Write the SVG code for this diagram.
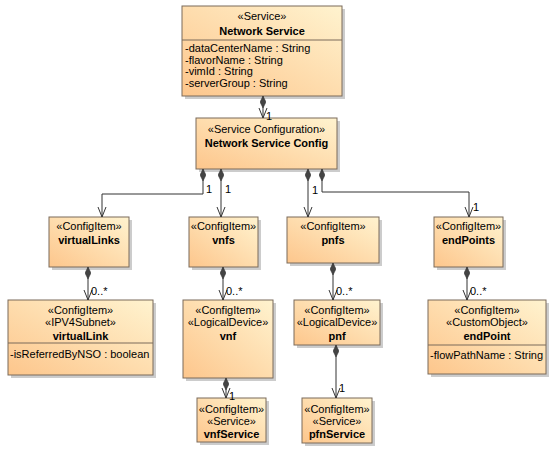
<svg xmlns="http://www.w3.org/2000/svg" width="559" height="470" viewBox="0 0 559 470">
<defs>
<linearGradient id="g" x1="0" y1="1" x2="1" y2="0">
<stop offset="0" stop-color="#FDC68C"/>
<stop offset="1" stop-color="#FFF3CF"/>
</linearGradient>
<marker id="arr" viewBox="0 0 10 10" refX="10" refY="5" markerWidth="10" markerHeight="10" markerUnits="userSpaceOnUse" orient="auto">
<path d="M0,1 L10,5 L0,9" fill="none" stroke="#333" stroke-width="1"/>
</marker>
<marker id="dia" viewBox="0 0 12 6" refX="0" refY="3" markerWidth="12" markerHeight="6" markerUnits="userSpaceOnUse" orient="auto">
<path d="M0,3 L6,0 L12,3 L6,6 Z" fill="#444" stroke="#333" stroke-width="0.5"/>
</marker>
</defs>
<style>
.box{fill:url(#g);stroke:#7a6a5a;stroke-width:1}
.sh{fill:#aaa;opacity:0.6}
.sep{stroke:#7a6a5a;stroke-width:1}
text{font-family:"Liberation Sans",Arial,sans-serif;font-size:11px;fill:#000}
.c{text-anchor:middle}
.b{font-weight:bold}
.ln{fill:none;stroke:#333;stroke-width:1;marker-start:url(#dia);marker-end:url(#arr)}
</style>
<rect width="559" height="470" fill="#fff"/>

<g id="networkService">
<rect class="sh" x="185" y="9" width="160" height="90"/>
<rect class="box" x="182" y="6" width="160" height="90"/>
<line class="sep" x1="182" y1="40" x2="342" y2="40"/>
<text class="c" x="262" y="20">«Service»</text>
<text class="c b" x="262" y="35">Network Service</text>
<text x="185" y="52">-dataCenterName : String</text>
<text x="185" y="64">-flavorName : String</text>
<text x="185" y="75">-vimId : String</text>
<text x="185" y="87">-serverGroup : String</text>
</g>

<g id="networkServiceConfig">
<rect class="sh" x="199" y="121" width="141" height="51"/>
<rect class="box" x="196" y="118" width="141" height="51"/>
<text class="c" x="266.5" y="133">«Service Configuration»</text>
<text class="c b" x="266.5" y="147">Network Service Config</text>
</g>

<g id="virtualLinks">
<rect class="sh" x="52" y="220" width="80" height="50"/>
<rect class="box" x="49" y="217" width="80" height="50"/>
<text class="c" x="89" y="230">«ConfigItem»</text>
<text class="c b" x="89" y="244">virtualLinks</text>
</g>

<g id="vnfs">
<rect class="sh" x="192" y="220" width="69" height="50"/>
<rect class="box" x="189" y="217" width="69" height="50"/>
<text class="c" x="223.5" y="230">«ConfigItem»</text>
<text class="c b" x="223.5" y="244">vnfs</text>
</g>

<g id="pnfs">
<rect class="sh" x="290" y="220" width="92" height="46"/>
<rect class="box" x="287" y="217" width="92" height="46"/>
<text class="c" x="333" y="230">«ConfigItem»</text>
<text class="c b" x="333" y="244">pnfs</text>
</g>

<g id="endPoints">
<rect class="sh" x="437" y="220" width="69" height="50"/>
<rect class="box" x="434" y="217" width="69" height="50"/>
<text class="c" x="468.5" y="230">«ConfigItem»</text>
<text class="c b" x="468.5" y="244">endPoints</text>
</g>

<g id="virtualLink">
<rect class="sh" x="11" y="303" width="145" height="75"/>
<rect class="box" x="8" y="300" width="145" height="75"/>
<line class="sep" x1="8" y1="343" x2="153" y2="343"/>
<text class="c" x="80.5" y="314">«ConfigItem»</text>
<text class="c" x="80.5" y="326">«IPV4Subnet»</text>
<text class="c b" x="80.5" y="340">virtualLink</text>
<text x="10" y="358">-isReferredByNSO : boolean</text>
</g>

<g id="vnf">
<rect class="sh" x="186" y="303" width="90" height="78"/>
<rect class="box" x="183" y="300" width="90" height="78"/>
<text class="c" x="228" y="314">«ConfigItem»</text>
<text class="c" x="228" y="326">«LogicalDevice»</text>
<text class="c b" x="228" y="340">vnf</text>
</g>

<g id="pnf">
<rect class="sh" x="297" y="303" width="86" height="45"/>
<rect class="box" x="294" y="300" width="86" height="45"/>
<text class="c" x="337" y="314">«ConfigItem»</text>
<text class="c" x="337" y="326">«LogicalDevice»</text>
<text class="c b" x="337" y="340">pnf</text>
</g>

<g id="endPoint">
<rect class="sh" x="431" y="303" width="118" height="74"/>
<rect class="box" x="428" y="300" width="118" height="74"/>
<line class="sep" x1="428" y1="345" x2="546" y2="345"/>
<text class="c" x="487" y="314">«ConfigItem»</text>
<text class="c" x="487" y="326">«CustomObject»</text>
<text class="c b" x="487" y="340">endPoint</text>
<text x="430" y="359">-flowPathName : String</text>
</g>

<g id="vnfService">
<rect class="sh" x="200" y="401" width="69" height="44"/>
<rect class="box" x="197" y="398" width="69" height="44"/>
<text class="c" x="231.5" y="413">«ConfigItem»</text>
<text class="c" x="231.5" y="425">«Service»</text>
<text class="c b" x="231.5" y="438">vnfService</text>
</g>

<g id="pfnService">
<rect class="sh" x="305" y="401" width="70" height="45"/>
<rect class="box" x="302" y="398" width="70" height="45"/>
<text class="c" x="337" y="413">«ConfigItem»</text>
<text class="c" x="337" y="425">«Service»</text>
<text class="c b" x="337" y="438">pfnService</text>
</g>

<g id="connectors">
<path class="ln" d="M263,96 L263,118"/>
<path class="ln" d="M203,169 L203,194 L102,194 L102,217"/>
<path class="ln" d="M221,169 L221,217"/>
<path class="ln" d="M308,169 L308,217"/>
<path class="ln" d="M322,169 L322,192 L469,192 L469,217"/>
<path class="ln" d="M88,267 L88,300"/>
<path class="ln" d="M223,267 L223,300"/>
<path class="ln" d="M333,263 L333,300"/>
<path class="ln" d="M467,267 L467,300"/>
<path class="ln" d="M226,378 L226,398"/>
<path class="ln" d="M336,345 L336,398"/>
<text x="266" y="120">1</text>
<text x="206" y="193">1</text>
<text x="225" y="193">1</text>
<text x="312" y="194">1</text>
<text x="473" y="211">1</text>
<text x="91" y="295">0..*</text>
<text x="226" y="295">0..*</text>
<text x="336" y="295">0..*</text>
<text x="470" y="295">0..*</text>
<text x="229" y="400">1</text>
<text x="339" y="392">1</text>
</g>
</svg>
